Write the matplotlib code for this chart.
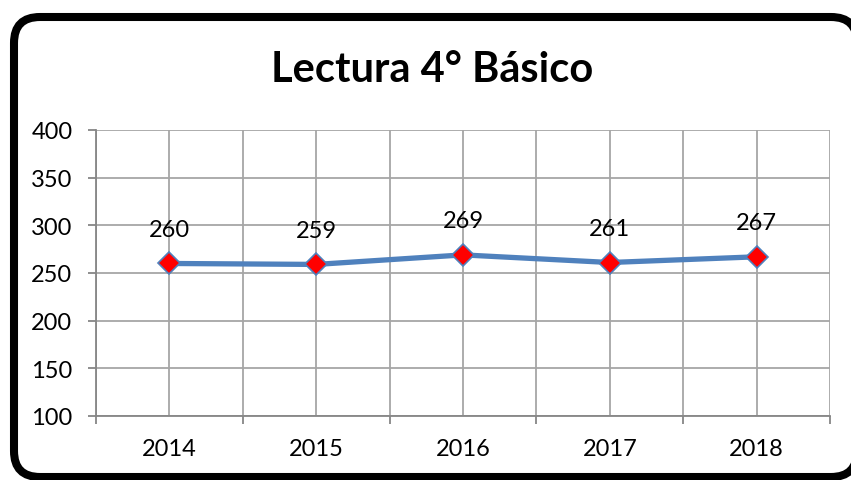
import matplotlib
matplotlib.use("Agg")
import matplotlib.pyplot as plt
from matplotlib.patches import FancyBboxPatch
import numpy as np

years = ["2014", "2015", "2016", "2017", "2018"]
scores = [260, 259, 269, 261, 267]
y_ticks = [100, 150, 200, 250, 300, 350, 400]
title = "Lectura 4° Básico"

W, H = 851, 481
fig = plt.figure(figsize=(W / 100, H / 100), dpi=100)
fig.patch.set_facecolor("white")

font = "Lato"
grid_c = "#A6A6A6"
axis_c = "#868686"

# rounded frame
bg = fig.add_axes([0, 0, 1, 1], zorder=0)
bg.set_xlim(0, W)
bg.set_ylim(H, 0)
bg.axis("off")
frame = FancyBboxPatch((14, 18), 843, 460, boxstyle="round,pad=0,rounding_size=26",
                       linewidth=5.8, edgecolor="black", facecolor="white", clip_on=False)
bg.add_patch(frame)

x0, x1, yt, yb = 96, 830, 131, 417
ax = fig.add_axes([x0 / W, (H - yb) / H, (x1 - x0) / W, (yb - yt) / H], zorder=1)
ax.patch.set_alpha(0)

xs = np.arange(len(years))
ax.set_xlim(-0.5, len(years) - 0.5)
ax.set_ylim(y_ticks[0], y_ticks[-1])

# grid lines
for xb in np.arange(-0.5, len(years), 0.5):
    ax.axvline(xb, color=grid_c, lw=1.3, zorder=0)
for yv in y_ticks:
    ax.axhline(yv, color=grid_c, lw=1.3, zorder=0)

ax.plot(xs, scores, color="#4F81BD", lw=3.8, marker="D", markersize=11,
        markerfacecolor="#FF0000", markeredgecolor="#4F81BD", markeredgewidth=1.2,
        zorder=3, solid_capstyle="round")
for x, v in zip(xs, scores):
    ax.annotate(str(v), (x, v), xytext=(0, 17), textcoords="offset points",
                ha="center", va="bottom", fontsize=17, family=font, color="black")

for s in ["top", "right"]:
    ax.spines[s].set_visible(False)
for s in ["left", "bottom"]:
    ax.spines[s].set_color(axis_c)
    ax.spines[s].set_linewidth(1.3)

ax.set_yticks(y_ticks)
ax.set_yticklabels([str(v) for v in y_ticks], fontsize=17, family=font)
ax.set_xticks(np.arange(-0.5, len(years), 1.0))
ax.set_xticklabels([""] * (len(years) + 1))
ax.set_xticks(xs, minor=True)
ax.set_xticklabels(years, minor=True, fontsize=17, family=font)
ax.tick_params(axis="x", which="major", length=6, width=1.3, color=axis_c, direction="out")
ax.tick_params(axis="x", which="minor", length=0, pad=16)
ax.tick_params(axis="y", length=6, width=1.3, color=axis_c, direction="out", pad=11)

fig.text(432 / W, 1 - 70 / H, title, ha="center", va="center", fontsize=30,
         fontweight="bold", family=font)

fig.savefig("out.png", dpi=100)
